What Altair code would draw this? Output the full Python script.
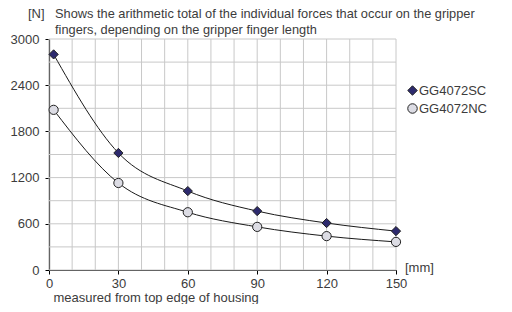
import altair as alt
import pandas as pd

x_mm = [2, 30, 60, 90, 120, 150]
sc_vals = [2800, 1520, 1025, 765, 610, 505]
nc_vals = [2080, 1130, 750, 560, 440, 365]
series_names = ["GG4072SC", "GG4072NC"]
x_grid = list(range(0, 151, 10))
y_grid = list(range(0, 3001, 300))
x_ticks = [0, 30, 60, 90, 120, 150]
y_ticks = [0, 600, 1200, 1800, 2400, 3000]
title_line1 = "Shows the arithmetic total of the individual forces that occur on the gripper"
title_line2 = "fingers, depending on the gripper finger length"
y_unit = "[N]"
x_unit = "[mm]"
x_title = "measured from top edge of housing"

rows = []
for name, vals in zip(series_names, [sc_vals, nc_vals]):
    for xv, yv in zip(x_mm, vals):
        rows.append({"x": xv, "y": yv, "series": name})
df = pd.DataFrame(rows)

FONT = "Liberation Sans"
TXT = "#3c3c3c"
GRID = "#c8c8c8"

xscale = alt.Scale(domain=[0, 150], nice=False)
yscale = alt.Scale(domain=[0, 3000], nice=False)

xgrid = alt.Chart(pd.DataFrame({"gx": x_grid})).mark_rule(color=GRID, strokeWidth=1).encode(
    x=alt.X(
        "gx:Q",
        scale=xscale,
        axis=alt.Axis(
            values=x_ticks,
            grid=False,
            tickSize=4,
            labelPadding=3,
            title=x_title,
            titleX=4,
            titleY=31,
            titleAnchor="start",
            titleAlign="left",
            titleBaseline="alphabetic",
        ),
    )
)
ygrid = alt.Chart(pd.DataFrame({"gy": y_grid})).mark_rule(color=GRID, strokeWidth=1).encode(
    y=alt.Y(
        "gy:Q",
        scale=yscale,
        axis=alt.Axis(
            values=y_ticks,
            grid=False,
            tickSize=4,
            labelPadding=6,
            format="d",
            title=None,
        ),
    )
)

base = alt.Chart(df)

lines = base.mark_line(interpolate="monotone", color="#1a1a1a", strokeWidth=1).encode(
    x="x:Q", y="y:Q", detail="series:N"
)

leg = alt.Legend(
    title=None,
    orient="none",
    legendX=357,
    legendY=45,
    labelFont=FONT,
    labelFontSize=13,
    labelColor=TXT,
    labelOffset=0,
    rowPadding=3,
    symbolStrokeWidth=1,
    symbolSize=90,
)

points = base.mark_point(filled=True, strokeWidth=1, opacity=1, size=85).encode(
    x="x:Q",
    y="y:Q",
    stroke=alt.Stroke(
        "series:N",
        scale=alt.Scale(domain=series_names, range=["#222222", "#222222"]),
        legend=leg,
    ),
    shape=alt.Shape(
        "series:N",
        scale=alt.Scale(domain=series_names, range=["diamond", "circle"]),
        legend=leg,
    ),
    fill=alt.Fill(
        "series:N",
        scale=alt.Scale(domain=series_names, range=["#2d2a6e", "#dcdce4"]),
        legend=leg,
    ),
)


def note(text, x, y, dx, dy, size=13):
    return alt.Chart(pd.DataFrame({"t": [text]})).mark_text(
        align="left", baseline="middle", dx=dx, dy=dy, font=FONT, fontSize=size, color=TXT
    ).encode(x=alt.datum(x), y=alt.datum(y), text="t:N")


mm_label = note(x_unit, 150, 0, 9, -2)
n_label = note(y_unit, 0, 3000, -21, -25)
t1 = note(title_line1, 0, 3000, 6, -25, 12.8)
t2 = note(title_line2, 0, 3000, 6, -9, 12.8)

chart = (
    alt.layer(xgrid, ygrid, lines, points, mm_label, n_label, t1, t2)
    .properties(
        width=347,
        height=231,
        padding={"left": 41, "top": 31, "right": 108, "bottom": 34},
        autosize=alt.AutoSizeParams(type="none"),
    )
    .configure_axis(
        labelFont=FONT,
        labelFontSize=13,
        labelColor=TXT,
        titleFont=FONT,
        titleFontSize=13,
        titleColor=TXT,
        titleFontWeight="normal",
        domainColor="#000",
        domainWidth=1.2,
        tickColor="#000",
        labelOverlap=False,
        labelFlush=False,
        labelBound=False,
    )
    .configure_view(stroke=None)
)

chart.save("out.html", embed_options={"renderer": "svg", "actions": False})
